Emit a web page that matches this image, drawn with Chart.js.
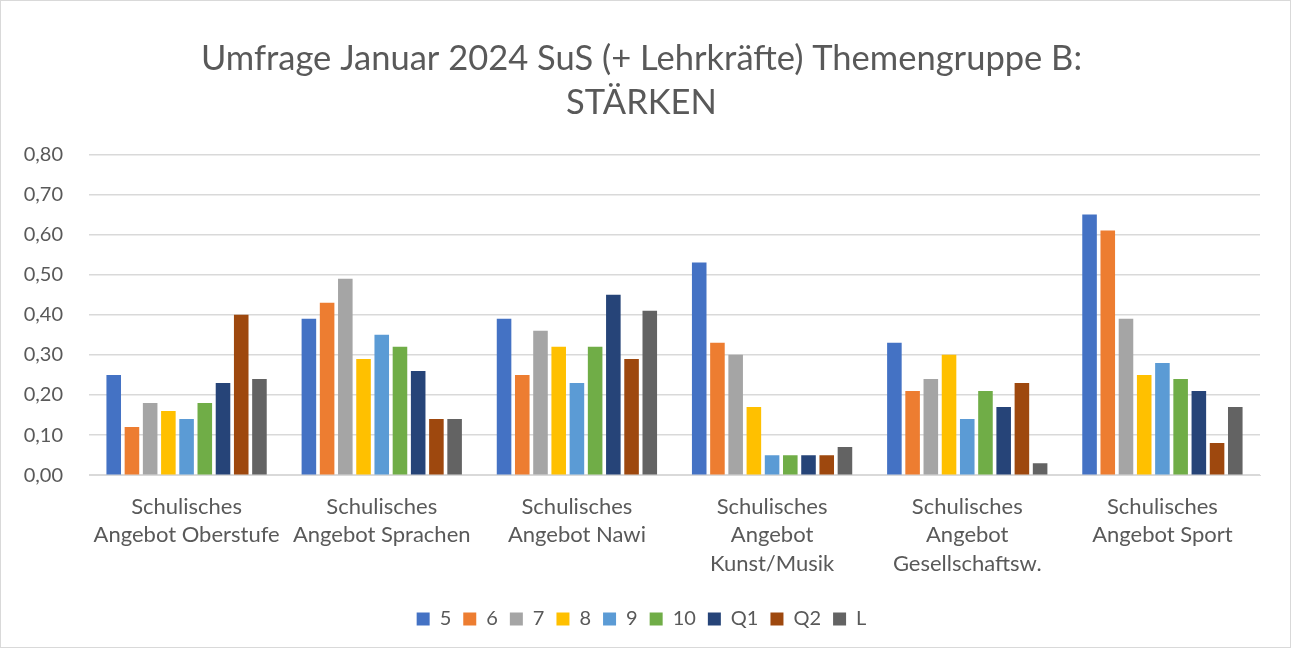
<!DOCTYPE html>
<html>
<head>
<meta charset="utf-8">
<script src="https://cdn.jsdelivr.net/npm/chart.js@4/dist/chart.umd.min.js"></script>
<style>
  html, body { margin: 0; padding: 0; background: #fff; }
  #box { position: absolute; left: 0; top: 0; width: 1289px; height: 646px; border: 1px solid #d9d9d9; }
</style>
</head>
<body>
<div id="box"><canvas id="chart" width="1289" height="646"></canvas></div>
<script>
// categories
const categories = [
  ["Schulisches", "Angebot Oberstufe"],
  ["Schulisches", "Angebot Sprachen"],
  ["Schulisches", "Angebot Nawi"],
  ["Schulisches", "Angebot", "Kunst/Musik"],
  ["Schulisches", "Angebot", "Gesellschaftsw."],
  ["Schulisches", "Angebot Sport"]
];
// series names and colours
const seriesNames = ["5", "6", "7", "8", "9", "10", "Q1", "Q2", "L"];
const seriesColors = ["#4472c4", "#ed7d31", "#a5a5a5", "#ffc000", "#5b9bd5", "#70ad47", "#264478", "#9e480e", "#636363"];
// values per series (one per category)
const v5  = [0.25, 0.39, 0.39, 0.53, 0.33, 0.65];
const v6  = [0.12, 0.43, 0.25, 0.33, 0.21, 0.61];
const v7  = [0.18, 0.49, 0.36, 0.30, 0.24, 0.39];
const v8  = [0.16, 0.29, 0.32, 0.17, 0.30, 0.25];
const v9  = [0.14, 0.35, 0.23, 0.05, 0.14, 0.28];
const v10 = [0.18, 0.32, 0.32, 0.05, 0.21, 0.24];
const vQ1 = [0.23, 0.26, 0.45, 0.05, 0.17, 0.21];
const vQ2 = [0.40, 0.14, 0.29, 0.05, 0.23, 0.08];
const vL  = [0.24, 0.14, 0.41, 0.07, 0.03, 0.17];
const seriesValues = [v5, v6, v7, v8, v9, v10, vQ1, vQ2, vL];

const textColor = "#595959";
const fontFamily = "Lato, 'Open Sans', sans-serif";

new Chart(document.getElementById("chart"), {
  type: "bar",
  data: {
    labels: categories,
    datasets: seriesNames.map((name, i) => ({
      label: name,
      data: seriesValues[i],
      backgroundColor: seriesColors[i],
      borderWidth: 0,
      categoryPercentage: 0.84,
      barPercentage: 0.8
    }))
  },
  options: {
    responsive: false,
    animation: false,
    layout: { padding: { left: 22, right: 30, top: 0, bottom: 8 } },
    plugins: {
      title: {
        display: true,
        text: ["Umfrage Januar 2024 SuS (+ Lehrkräfte) Themengruppe B:", "STÄRKEN"],
        color: textColor,
        font: { family: fontFamily, size: 34.5, weight: "normal", lineHeight: 1.28 },
        padding: { top: 36, bottom: 29 }
      },
      legend: {
        position: "bottom",
        labels: {
          color: textColor,
          font: { family: fontFamily, size: 20 },
          boxWidth: 13,
          boxHeight: 13,
          padding: 12
        }
      },
      tooltip: { enabled: false }
    },
    scales: {
      x: {
        grid: { display: false },
        border: { color: "#d9d9d9" },
        afterFit: s => { s.height += 10; },
        ticks: {
          color: textColor,
          font: { family: fontFamily, size: 22, lineHeight: 1.3 },
          maxRotation: 0,
          autoSkip: false,
          padding: 9
        }
      },
      y: {
        min: 0,
        max: 0.8,
        grid: { color: "#d9d9d9", lineWidth: 1.5, drawTicks: false },
        border: { display: false },
        afterFit: s => { s.width = 66; },
        ticks: {
          stepSize: 0.1,
          color: textColor,
          font: { family: fontFamily, size: 20 },
          padding: 26,
          callback: v => v.toFixed(2).replace(".", ",")
        }
      }
    }
  }
});
</script>
</body>
</html>
